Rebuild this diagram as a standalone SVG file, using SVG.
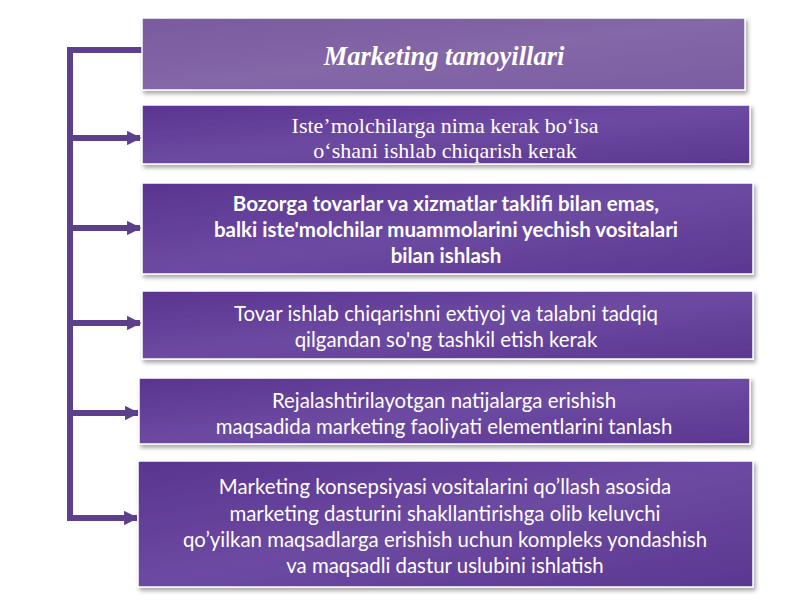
<svg xmlns="http://www.w3.org/2000/svg" width="800" height="600" viewBox="0 0 800 600">
<defs>
<linearGradient id="gb" x1="0" y1="0" x2="1" y2="1">
<stop offset="0" stop-color="#5a3490"/>
<stop offset="0.5" stop-color="#6d4aa2"/>
<stop offset="1" stop-color="#5b3790"/>
</linearGradient>
<linearGradient id="gt" x1="0" y1="0" x2="1" y2="1">
<stop offset="0" stop-color="#7a5a9e"/>
<stop offset="0.5" stop-color="#8467a8"/>
<stop offset="1" stop-color="#7a5ea2"/>
</linearGradient>
<filter id="sh" x="-5%" y="-10%" width="110%" height="130%">
<feDropShadow dx="2" dy="3" stdDeviation="2" flood-color="#000" flood-opacity="0.35"/>
</filter>
<marker id="ah" viewBox="0 0 10 10" refX="9" refY="5" markerWidth="2.4" markerHeight="2.4" orient="auto" markerUnits="strokeWidth">
<path d="M0,0 L10,5 L0,10 Z" fill="#5e3f8c"/>
</marker>
</defs>
<style>
.box{fill:url(#gb);stroke:#ffffff;stroke-width:1.5;filter:url(#sh)}
.tbox{fill:url(#gt);stroke:#ffffff;stroke-width:1.5;filter:url(#sh)}
.ln{fill:none;stroke:#5e3f8c;stroke-width:6}
.ar{fill:none;stroke:#5e3f8c;stroke-width:6;marker-end:url(#ah)}
.t{fill:#ffffff;text-anchor:middle}
.serif{font-family:"Liberation Serif","DejaVu Serif",serif;font-size:22px}
.sans{font-family:Lato,"Open Sans",sans-serif;font-size:20.4px}
.bold{font-family:Lato,"Open Sans",sans-serif;font-size:20.5px;font-weight:bold}
</style>
<rect width="800" height="600" fill="#ffffff"/>
<g id="connectors">
<path class="ln" d="M142,50 H70 V520"/>
<line class="ar" x1="67" y1="138" x2="140" y2="138"/>
<line class="ar" x1="67" y1="228" x2="140" y2="228"/>
<line class="ar" x1="67" y1="323" x2="140" y2="323"/>
<line class="ar" x1="67" y1="413" x2="138" y2="413"/>
<line class="ar" x1="67" y1="518" x2="137" y2="518"/>
</g>
<g id="title">
<rect class="tbox" x="142" y="18" width="603" height="72"/>
<text class="t" x="444" y="65" font-family="Liberation Serif,serif" font-size="26.5" font-style="italic" font-weight="bold">Marketing tamoyillari</text>
</g>
<g id="n1">
<rect class="box" x="142" y="105" width="608" height="59"/>
<text class="t serif" x="445" y="133">Iste’molchilarga nima kerak bo‘lsa</text>
<text class="t serif" x="445" y="158">o‘shani ishlab chiqarish kerak</text>
</g>
<g id="n2">
<rect class="box" x="142" y="183" width="611" height="91"/>
<text class="t bold" x="446" y="211">Bozorga tovarlar va xizmatlar taklifi bilan emas,</text>
<text class="t bold" x="446" y="237">balki iste'molchilar muammolarini yechish vositalari</text>
<text class="t bold" x="446" y="263">bilan ishlash</text>
</g>
<g id="n3">
<rect class="box" x="142" y="291" width="611" height="68"/>
<text class="t sans" x="446" y="321">Tovar ishlab chiqarishni extiyoj va talabni tadqiq</text>
<text class="t sans" x="446" y="347">qilgandan so'ng tashkil etish kerak</text>
</g>
<g id="n4">
<rect class="box" x="139" y="378" width="611" height="66"/>
<text class="t sans" x="444" y="408">Rejalashtirilayotgan natijalarga erishish</text>
<text class="t sans" x="444" y="434">maqsadida marketing faoliyati elementlarini tanlash</text>
</g>
<g id="n5">
<rect class="box" x="138" y="461" width="615" height="126"/>
<text class="t sans" x="445" y="494">Marketing konsepsiyasi vositalarini qo’llash asosida</text>
<text class="t sans" x="445" y="521">marketing dasturini shakllantirishga olib keluvchi</text>
<text class="t sans" x="445" y="547">qo’yilkan maqsadlarga erishish uchun kompleks yondashish</text>
<text class="t sans" x="445" y="573">va maqsadli dastur uslubini ishlatish</text>
</g>
</svg>
